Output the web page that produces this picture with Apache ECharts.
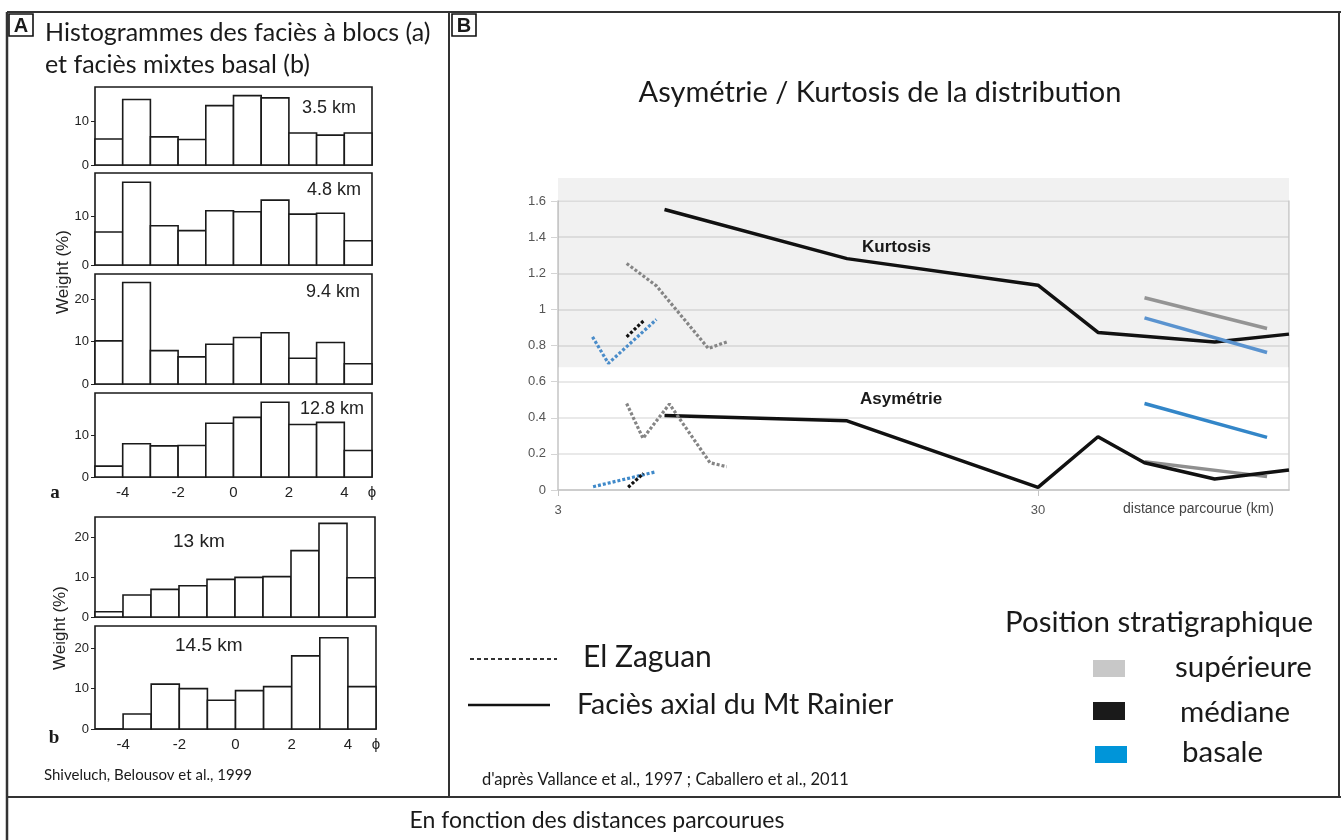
<!DOCTYPE html>
<html>
<head>
<meta charset="utf-8">
<title>Asymétrie / Kurtosis</title>
<script src="https://cdn.jsdelivr.net/npm/echarts@6/dist/echarts.min.js"></script>
<style>
html, body { margin: 0; padding: 0; background: #fff; }
#main { width: 1341px; height: 840px; }
</style>
</head>
<body>
<div id="main"></div>
<script>
// histograms (weight %), one value per 1-phi class, lower edge of class in binStarts
var binStarts = [-5, -4, -3, -2, -1, 0, 1, 2, 3, 4];
var hist35  = [6.0, 15.1, 6.5, 5.9, 13.7, 16.0, 15.5, 7.4, 6.9, 7.4];
var hist48  = [6.8, 17.1, 8.1, 7.1, 11.2, 11.0, 13.4, 10.5, 10.7, 5.0];
var hist94  = [10.2, 24.0, 7.9, 6.4, 9.4, 11.0, 12.1, 6.1, 9.8, 4.8];
var hist128 = [2.6, 7.9, 7.4, 7.5, 12.8, 14.2, 17.8, 12.5, 13.0, 6.3];
var hist13  = [1.3, 5.5, 6.9, 7.8, 9.4, 9.9, 10.1, 16.6, 23.4, 9.8];
var hist145 = [0, 3.7, 11.1, 10.0, 7.1, 9.5, 10.5, 18.1, 22.6, 10.5];

// Mt Rainier axial facies (distance km / value)
var rainierKurtDist = [5, 12, 30, 40, 70, 100];
var rainierKurt     = [1.553, 1.281, 1.134, 0.872, 0.820, 0.863];
var rainierAsymDist = [5, 12, 30, 40, 50, 70, 100];
var rainierAsym     = [0.413, 0.383, 0.015, 0.295, 0.151, 0.061, 0.111];
var rainierPosDist  = [50, 90];
var rainierSupKurt  = [1.064, 0.894];
var rainierBasKurt  = [0.953, 0.761];
var rainierSupAsym  = [0.157, 0.074];
var rainierBasAsym  = [0.479, 0.291];

// El Zaguan
var zagSupKurtDist = [4.17, 4.81, 6.17, 6.74];
var zagSupKurt     = [1.254, 1.13, 0.784, 0.82];
var zagBasKurtDist = [3.54, 3.82, 4.81];
var zagBasKurt     = [0.848, 0.701, 0.944];
var zagMedKurtDist = [4.17, 4.52];
var zagMedKurt     = [0.848, 0.936];
var zagSupAsymDist = [4.17, 4.51, 5.12, 6.22, 6.74];
var zagSupAsym     = [0.479, 0.286, 0.476, 0.151, 0.129];
var zagBasAsymDist = [3.55, 4.8];
var zagBasAsym     = [0.018, 0.101];
var zagMedAsymDist = [4.2, 4.52];
var zagMedAsym     = [0.015, 0.092];

var xTickLabels = [3, 30];

function zip(a, b) {
  var out = [];
  for (var i = 0; i < a.length; i++) out.push([a[i], b[i]]);
  return out;
}

var sans = 'Liberation Sans, Arial, sans-serif';
var myriad = 'Lato, Open Sans, sans-serif';

var myChart = echarts.init(document.getElementById('main'));

var hists = [
  { data: hist35,  top: 87,  height: 78,  width: 277, max: 18,   label: '3.5 km',  lx: 302, ly: 108, fs: 18, showX: false },
  { data: hist48,  top: 173, height: 92,  width: 277, max: 19,   label: '4.8 km',  lx: 307, ly: 190, fs: 18, showX: false },
  { data: hist94,  top: 274, height: 110, width: 277, max: 26,   label: '9.4 km',  lx: 306, ly: 292, fs: 18, showX: false },
  { data: hist128, top: 393, height: 84,  width: 277, max: 20,   label: '12.8 km', lx: 300, ly: 409, fs: 18, showX: true },
  { data: hist13,  top: 517, height: 100, width: 280, max: 25,   label: '13 km',   lx: 173, ly: 542, fs: 19, showX: false },
  { data: hist145, top: 626, height: 103, width: 281, max: 25.5, label: '14.5 km', lx: 175, ly: 646, fs: 19, showX: true }
];

var grids = [], xAxes = [], yAxes = [], series = [], graphics = [];

function renderBin(params, api) {
  var x0 = api.value(0), h = api.value(1);
  var p0 = api.coord([x0, 0]);
  var p1 = api.coord([x0 + 1, h]);
  return {
    type: 'rect',
    shape: { x: p0[0], y: p1[1], width: p1[0] - p0[0], height: p0[1] - p1[1] },
    style: { fill: '#fff', stroke: '#1a1a1a', lineWidth: 1.6 }
  };
}

hists.forEach(function (h, i) {
  grids.push({ left: 95, top: h.top, width: h.width, height: h.height, show: true,
    borderColor: '#1a1a1a', borderWidth: 1.6, backgroundColor: 'transparent' });
  xAxes.push({
    type: 'value', gridIndex: i, min: -5, max: 5, interval: 1,
    axisLine: { show: false, onZero: false }, splitLine: { show: false },
    axisTick: { show: false },
    axisLabel: {
      show: h.showX, color: '#222', fontSize: 15, fontFamily: sans, margin: 8,
      formatter: function (v) { return v === 5 ? 'ϕ' : (v % 2 === 0 ? String(v) : ''); }
    }
  });
  yAxes.push({
    type: 'value', gridIndex: i, min: 0, max: h.max, interval: 10,
    axisLine: { show: false, onZero: false }, splitLine: { show: false },
    axisTick: { show: true, length: 4, lineStyle: { color: '#222' } },
    axisLabel: { color: '#222', fontSize: 13, fontFamily: sans, margin: 6, showMaxLabel: false }
  });
  series.push({
    type: 'custom', xAxisIndex: i, yAxisIndex: i, renderItem: renderBin,
    data: zip(binStarts, h.data), silent: true
  });
  graphics.push({ type: 'text', x: h.lx, y: h.ly,
    style: { text: h.label, fontSize: h.fs, fontFamily: sans, fill: '#222', verticalAlign: 'middle' } });
});

// line chart
var LG = hists.length;
grids.push({ left: 558, top: 201, width: 731, height: 289 });
xAxes.push({
  type: 'log', logBase: 10, gridIndex: LG, min: 3, max: 100,
  axisLine: { onZero: false, lineStyle: { color: '#c4c4c4', width: 1.5 } },
  axisTick: { show: true, customValues: xTickLabels, length: 6, lineStyle: { color: '#c4c4c4' } },
  axisLabel: { customValues: xTickLabels, color: '#555', fontSize: 13, fontFamily: sans, margin: 14 },
  splitLine: { show: false }
});
yAxes.push({
  type: 'value', gridIndex: LG, min: 0, max: 1.6, interval: 0.2,
  axisLine: { show: true, onZero: false, lineStyle: { color: '#c4c4c4', width: 1.5 } },
  axisTick: { show: true, length: 7, lineStyle: { color: '#d4d4d4' } },
  axisLabel: { color: '#555', fontSize: 13, fontFamily: sans, margin: 12 },
  splitLine: { lineStyle: { color: '#e2e2e2', width: 1.5 } }
});
yAxes.push({
  type: 'value', gridIndex: LG, position: 'right', min: 0, max: 1.6, interval: 0.2,
  axisLine: { show: true, onZero: false, lineStyle: { color: '#d0d0d0', width: 1.5 } },
  axisTick: { show: false }, axisLabel: { show: false }, splitLine: { show: false }
});

function line(dist, vals, color, dotted, z) {
  return {
    type: 'line', xAxisIndex: LG, yAxisIndex: LG, data: zip(dist, vals),
    symbol: 'none', silent: true, z: z,
    lineStyle: { color: color, width: dotted ? 3.2 : 3.5, type: dotted ? [3, 2] : 'solid', cap: 'butt' }
  };
}

var kurt = line(rainierKurtDist, rainierKurt, '#111', false, 4);
kurt.markArea = { silent: true, itemStyle: { color: 'rgba(0,0,0,0.055)' },
  data: [[{ yAxis: 0.68 }, { yAxis: 1.6 }]] };

series.push(
  line(rainierPosDist, rainierSupAsym, '#8f8f8f', false, 3),
  kurt,
  line(rainierAsymDist, rainierAsym, '#111', false, 4),
  line(rainierPosDist, rainierSupKurt, '#949494', false, 5),
  line(rainierPosDist, rainierBasKurt, '#5a93cf', false, 5),
  line(rainierPosDist, rainierBasAsym, '#3386c8', false, 5),
  line(zagSupKurtDist, zagSupKurt, '#858585', true, 5),
  line(zagBasKurtDist, zagBasKurt, '#4a8cc9', true, 5),
  line(zagMedKurtDist, zagMedKurt, '#111', true, 6),
  line(zagSupAsymDist, zagSupAsym, '#858585', true, 5),
  line(zagBasAsymDist, zagBasAsym, '#3f89c9', true, 5),
  line(zagMedAsymDist, zagMedAsym, '#111', true, 6)
);

function txt(x, y, s, size, family, extra) {
  var st = { text: s, fontSize: size, fontFamily: family, fill: '#1a1a1a', verticalAlign: 'middle', align: 'left' };
  for (var k in (extra || {})) st[k] = extra[k];
  return { type: 'text', x: x, y: y, style: st };
}
function seg(x1, y1, x2, y2, w, color, dash) {
  return { type: 'line', shape: { x1: x1, y1: y1, x2: x2, y2: y2 },
    style: { stroke: color || '#333', lineWidth: w, lineDash: dash || null } };
}

graphics.push(
  // frame
  seg(7, 12, 1341, 12, 2), seg(7, 12, 7, 840, 2.5), seg(449, 12, 449, 797, 2),
  seg(7, 797, 1341, 797, 2), seg(1339, 12, 1339, 797, 2),
  // panel tags
  { type: 'rect', shape: { x: 9, y: 14, width: 24, height: 22 }, style: { fill: '#fff', stroke: '#111', lineWidth: 1.6 } },
  txt(21, 26, 'A', 20, sans, { fontWeight: 'bold', align: 'center' }),
  { type: 'rect', shape: { x: 452, y: 14, width: 24, height: 22 }, style: { fill: '#fff', stroke: '#111', lineWidth: 1.6 } },
  txt(464, 26, 'B', 20, sans, { fontWeight: 'bold', align: 'center' }),
  // panel A texts
  txt(45, 33, 'Histogrammes des faciès à blocs (a)', 25, myriad),
  txt(45, 65, 'et faciès mixtes basal (b)', 25, myriad),
  { type: 'text', x: 63, y: 272, rotation: Math.PI / 2,
    style: { text: 'Weight (%)', fontSize: 17, fontFamily: sans, fill: '#222', align: 'center', verticalAlign: 'middle' } },
  { type: 'text', x: 60, y: 628, rotation: Math.PI / 2,
    style: { text: 'Weight (%)', fontSize: 17, fontFamily: sans, fill: '#222', align: 'center', verticalAlign: 'middle' } },
  txt(55, 493, 'a', 19, 'Liberation Serif, serif', { fontWeight: 'bold', align: 'center' }),
  txt(54, 738, 'b', 19, 'Liberation Serif, serif', { fontWeight: 'bold', align: 'center' }),
  txt(148, 775, 'Shiveluch, Belousov et al., 1999', 15, myriad, { align: 'center' }),
  // panel B texts
  { type: 'rect', z: -1, shape: { x: 558, y: 178, width: 731, height: 23 }, style: { fill: '#f1f1f1' } },
  txt(880, 93, 'Asymétrie / Kurtosis de la distribution', 29, myriad, { align: 'center' }),
  txt(862, 247, 'Kurtosis', 17, sans, { fontWeight: 'bold' }),
  txt(860, 399, 'Asymétrie', 17, sans, { fontWeight: 'bold' }),
  txt(1123, 509, 'distance parcourue (km)', 14, sans, { fill: '#444' }),
  // legend
  seg(470, 659, 557, 659, 2, '#333', [4, 3]),
  txt(583, 657, 'El Zaguan', 30, myriad),
  seg(468, 705, 550, 705, 2.5, '#111'),
  txt(577, 705, 'Faciès axial du Mt Rainier', 28.5, myriad),
  txt(482, 780, "d'après Vallance et al., 1997 ; Caballero et al., 2011", 16.5, myriad),
  txt(1005, 622, 'Position stratigraphique', 29.5, myriad),
  { type: 'rect', shape: { x: 1093, y: 660, width: 32, height: 17 }, style: { fill: '#c8c8c8' } },
  txt(1175, 667, 'supérieure', 29.5, myriad),
  { type: 'rect', shape: { x: 1093, y: 702, width: 32, height: 18 }, style: { fill: '#1a1a1a' } },
  txt(1180, 712, 'médiane', 29.5, myriad),
  { type: 'rect', shape: { x: 1095, y: 746, width: 32, height: 17 }, style: { fill: '#0095d9' } },
  txt(1182, 752, 'basale', 29.5, myriad),
  // bottom caption
  txt(597, 821, 'En fonction des distances parcourues', 23, myriad, { align: 'center' })
);

myChart.setOption({
  animation: false,
  backgroundColor: '#fff',
  grid: grids,
  xAxis: xAxes,
  yAxis: yAxes,
  series: series,
  graphic: graphics
});
</script>
</body>
</html>
